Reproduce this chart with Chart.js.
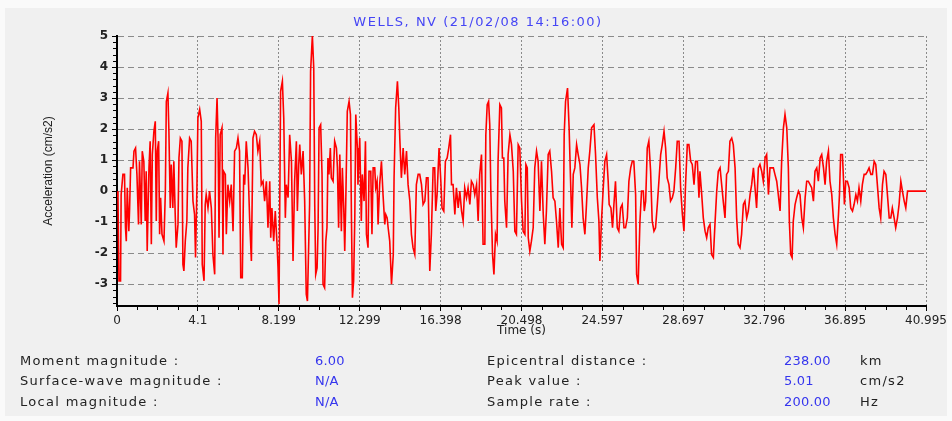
<!DOCTYPE html>
<html>
<head>
<meta charset="utf-8">
<script src="https://cdn.jsdelivr.net/npm/chart.js@4.4.1/dist/chart.umd.min.js"></script>
<style>
  html, body { margin: 0; padding: 0; background: #fafafa; }
  .panel { position: absolute; left: 5px; top: 8px; width: 942px; height: 408px; background: #f0f0f0; }
  #wrap { position: absolute; left: 0; top: 0; width: 952px; height: 421px; }
  .title { position: absolute; left: 0; top: 14px; width: 956px; text-align: center; font: 13px 'DejaVu Sans', sans-serif; letter-spacing: 1.5px; color: #4545f5; line-height: 16px; }
  .info { position: absolute; font: 13px 'DejaVu Sans', sans-serif; color: #222; white-space: nowrap; line-height: 16px; letter-spacing: 1.3px; }
  .val { color: #3535ee; letter-spacing: 0.2px; }
</style>
</head>
<body>
<div class="panel"></div>
<div id="wrap"><canvas id="myChart" width="952" height="421"></canvas></div>
<div class="title">WELLS, NV (21/02/08 14:16:00)</div>

<div class="info" style="left:20px; top:353px">Moment magnitude :</div>
<div class="info" style="left:20px; top:373px">Surface-wave magnitude :</div>
<div class="info" style="left:20px; top:394px">Local magnitude :</div>
<div class="info val" style="left:315px; top:353px">6.00</div>
<div class="info val" style="left:315px; top:373px">N/A</div>
<div class="info val" style="left:315px; top:394px">N/A</div>
<div class="info" style="left:487px; top:353px">Epicentral distance :</div>
<div class="info" style="left:487px; top:373px">Peak value :</div>
<div class="info" style="left:487px; top:394px">Sample rate :</div>
<div class="info val" style="left:784px; top:353px">238.00</div>
<div class="info val" style="left:784px; top:373px">5.01</div>
<div class="info val" style="left:784px; top:394px">200.00</div>
<div class="info" style="left:860px; top:353px">km</div>
<div class="info" style="left:860px; top:373px">cm/s2</div>
<div class="info" style="left:860px; top:394px">Hz</div>

<script>
const timeTicks = ['0', '4.1', '8.199', '12.299', '16.398', '20.498', '24.597', '28.697', '32.796', '36.895', '40.995']
const accelTicks = [-3, -2, -1, 0, 1, 2, 3, 4, 5]

// [time (s), acceleration (cm/s2)]
const accel = [
  [0, 0], [0.05, -0.21], [0.1, -2.89], [0.18, -2.89], [0.21, -0.11], [0.3, 0.54], [0.38, 0.54], [0.43, -1.18],
  [0.47, -1.61], [0.52, 0.11], [0.6, -1.29], [0.64, -0.54], [0.69, 0.75], [0.81, 0.75], [0.86, 1.29], [0.94, 1.39],
  [1.01, 0.54], [1.09, -1.07], [1.14, 0.96], [1.23, -1.07], [1.28, 1.29], [1.36, 0.96], [1.43, -0.96], [1.48, 0.64],
  [1.53, -1.93], [1.62, 0.75], [1.68, 1.61], [1.74, -1.71], [1.79, 1.18], [1.87, 1.93], [1.94, 2.25], [1.99, -0.96],
  [2.04, 1.29], [2.11, 1.61], [2.16, -1.39], [2.21, -0.21], [2.28, -1.39], [2.38, -1.61], [2.45, 0], [2.5, 2.89],
  [2.58, 3.16], [2.63, 1.93], [2.7, -0.54], [2.75, 0.86], [2.83, -0.54], [2.88, 0.96], [2.95, -0.75], [3, -1.82],
  [3.09, -1.07], [3.14, 1.07], [3.21, 1.71], [3.29, 1.61], [3.34, -2.36], [3.39, -2.57], [3.46, -1.61], [3.54, -0.96],
  [3.59, 0.75], [3.68, 1.71], [3.76, 1.61], [3.85, -0.32], [3.93, -0.75], [3.98, -2.14], [4.05, 0.11], [4.1, 2.36],
  [4.19, 2.63], [4.27, 2.25], [4.32, -2.36], [4.41, -2.89], [4.47, -0.43], [4.52, -0.11], [4.61, -0.54], [4.69, 0],
  [4.78, -0.54], [4.86, -2.04], [4.95, -2.68], [5, 1.71], [5.07, 3], [5.12, 1.71], [5.17, -1.5], [5.23, 1.82],
  [5.32, 2.04], [5.37, -2.04], [5.4, 0.64], [5.49, 0.54], [5.54, -1.39], [5.62, 0.21], [5.71, -0.32], [5.79, 0.21],
  [5.88, -1.29], [5.96, 1.29], [6.05, 1.39], [6.13, 1.71], [6.21, 1.29], [6.27, -2.79], [6.35, -2.79], [6.42, 0.54],
  [6.47, 0.21], [6.55, 1.61], [6.64, 0.75], [6.72, -0.86], [6.81, -2.25], [6.89, 1.71], [6.97, 1.93], [7.06, 1.82],
  [7.14, 1.29], [7.23, 1.61], [7.31, 0.21], [7.4, 0.32], [7.48, -0.32], [7.57, 0.32], [7.65, -1.18], [7.74, 0.32],
  [7.79, -1.5], [7.85, -0.54], [7.94, -1.61], [8.02, -0.64], [8.11, -1.71], [8.16, -2.47], [8.21, -3.64], [8.29, 3.22],
  [8.38, 3.54], [8.45, 2.36], [8.53, -0.86], [8.58, 0.21], [8.67, -0.21], [8.75, 1.82], [8.84, 0.96], [8.92, -2.25],
  [9, 0.32], [9.09, 1.61], [9.14, -0.64], [9.21, 0.86], [9.26, 1.5], [9.34, 0.54], [9.43, 1.29], [9.51, -0.32],
  [9.59, -3.32], [9.65, -3.54], [9.76, -0.43], [9.81, 3.86], [9.9, 5.01], [9.97, 3.97], [10.02, -0.43], [10.07, -2.68],
  [10.14, -2.47], [10.19, -1.18], [10.24, 2.04], [10.32, 2.14], [10.39, 0.54], [10.44, -3], [10.52, -3.11], [10.58, -1.61],
  [10.64, -1.18], [10.69, 1.07], [10.74, 0.54], [10.81, 1.39], [10.86, 0.43], [10.95, 0.32], [11.03, 1.61], [11.12, 1.39],
  [11.17, 0.75], [11.23, -1.18], [11.29, 1.18], [11.37, -1.29], [11.42, 0.75], [11.49, -0.54], [11.54, -1.93], [11.59, -0.43],
  [11.67, 2.57], [11.76, 2.89], [11.83, 2.47], [11.88, -0.86], [11.93, -3.43], [11.99, -2.89], [12.05, -0.86], [12.1, 2.47],
  [12.18, 1.39], [12.21, 0.21], [12.3, 1.71], [12.38, -0.96], [12.43, 0.54], [12.52, -0.32], [12.59, 1.61], [12.64, -1.39],
  [12.72, -1.82], [12.77, 0.64], [12.86, 0.64], [12.92, -1.39], [12.98, 0.75], [13.06, 0.75], [13.11, 0.11], [13.18, 0.32],
  [13.23, -1.07], [13.31, 0.21], [13.4, 0.96], [13.48, -0.11], [13.57, -1.07], [13.62, -0.75], [13.69, -0.86], [13.74, -1.18],
  [13.82, -1.61], [13.91, -3], [14, -2.04], [14.04, 0.43], [14.12, 2.68], [14.21, 3.54], [14.28, 2.68], [14.33, 1.71],
  [14.41, 0.43], [14.5, 1.39], [14.58, 0.54], [14.67, 1.29], [14.75, 0.21], [14.84, -0.32], [14.92, -1.39], [15, -1.82],
  [15.09, -2.04], [15.17, 0.21], [15.26, 0.54], [15.34, 0.54], [15.43, 0.21], [15.51, -0.43], [15.6, -0.32], [15.68, 0.43],
  [15.76, 0.43], [15.85, -2.57], [15.93, -1.39], [16.02, 0.75], [16.1, 0.75], [16.15, -0.64], [16.22, -0.11], [16.32, 1.39],
  [16.41, 0.32], [16.47, -0.54], [16.56, -0.64], [16.64, 0.96], [16.73, 1.07], [16.81, 1.39], [16.9, 1.82], [16.95, 0.21],
  [17.03, 0.21], [17.12, -0.75], [17.2, 0.11], [17.29, -0.54], [17.37, 0], [17.46, -0.64], [17.54, -0.96], [17.62, 0.11],
  [17.71, -0.21], [17.79, 0.11], [17.88, -0.43], [17.96, 0.32], [18.05, 0.21], [18.13, -0.11], [18.22, 0.21], [18.3, -0.96],
  [18.38, 0.54], [18.47, 1.18], [18.55, -1.71], [18.64, -1.71], [18.69, 1.82], [18.76, 2.79], [18.83, 2.89], [18.89, 2.14],
  [18.94, 0.11], [19.03, -2.04], [19.1, -2.68], [19.18, -1.39], [19.26, -1.61], [19.31, 0.96], [19.4, 2.79], [19.48, 2.68],
  [19.53, 1.07], [19.6, 1.07], [19.65, -0.32], [19.74, -1.18], [19.82, 1.18], [19.91, 1.82], [19.99, 1.5], [20.08, 0.64],
  [20.16, -1.29], [20.24, -1.39], [20.33, 1.5], [20.41, 1.39], [20.5, -0.32], [20.58, -1.29], [20.67, -1.39], [20.72, 0.86],
  [20.79, 0.75], [20.84, -1.5], [20.92, -1.93], [21, -1.61], [21.09, -1.18], [21.17, 0.75], [21.26, 1.29], [21.34, 0.96],
  [21.43, -0.64], [21.51, 0.96], [21.6, -0.75], [21.68, -1.71], [21.76, -0.64], [21.85, 1.18], [21.93, 1.29], [22.02, 0.64],
  [22.1, -0.21], [22.19, -0.32], [22.27, -0.96], [22.36, -1.82], [22.44, -0.54], [22.53, -1.71], [22.61, -1.82], [22.66, 1.82],
  [22.73, 2.89], [22.83, 3.32], [22.91, 2.04], [22.98, 0.43], [23.05, -1.18], [23.12, 0.54], [23.2, 0.75], [23.29, 1.5],
  [23.37, 1.18], [23.46, 0.86], [23.54, 0.11], [23.62, -0.86], [23.71, -1.39], [23.79, -0.43], [23.88, 0.75], [23.96, 1.29],
  [24.05, 2.04], [24.17, 2.14], [24.25, 1.18], [24.34, -0.21], [24.42, -0.96], [24.47, -2.25], [24.55, -0.96], [24.64, 0.11],
  [24.72, 0.96], [24.81, 1.18], [24.89, 0.32], [24.94, -0.43], [25.03, -0.54], [25.11, -1.18], [25.18, -0.43], [25.26, 0.32],
  [25.35, -1.18], [25.43, -1.29], [25.52, -0.54], [25.6, -0.43], [25.69, -1.18], [25.77, -1.18], [25.86, -0.86], [25.94, 0.32],
  [26.03, 0.75], [26.11, 0.96], [26.19, 0.96], [26.28, -0.11], [26.33, -2.68], [26.41, -3], [26.5, -0.96], [26.58, 0],
  [26.67, 0], [26.72, -0.64], [26.79, -0.32], [26.87, 1.39], [26.95, 1.61], [27.04, 0.64], [27.12, -0.96], [27.21, -1.29],
  [27.29, -1.18], [27.38, -0.43], [27.46, 0.32], [27.55, 1.18], [27.63, 1.5], [27.72, 1.93], [27.8, 1.39], [27.88, 0.43],
  [27.97, 0.21], [28.05, -0.32], [28.14, -0.21], [28.22, 0], [28.31, 0.75], [28.39, 1.61], [28.48, 1.61], [28.56, 0.11],
  [28.65, -0.75], [28.73, -1.29], [28.81, 0.21], [28.9, 1.5], [28.98, 1.5], [29.07, 0.96], [29.15, 0.86], [29.24, 0.21],
  [29.32, 0.96], [29.41, 0.96], [29.49, -0.21], [29.54, 0.64], [29.63, -0.11], [29.71, -0.86], [29.8, -1.29], [29.88, -1.5],
  [29.96, -1.18], [30.05, -1.07], [30.13, -2.04], [30.22, -2.14], [30.3, -1.07], [30.39, 0], [30.47, 0.64], [30.56, 0.75],
  [30.64, 0.21], [30.72, -0.32], [30.81, -0.86], [30.89, 0.54], [30.98, 0.64], [31.06, 1.61], [31.15, 1.71], [31.23, 1.5],
  [31.32, 0.75], [31.4, -0.86], [31.48, -1.71], [31.57, -1.82], [31.65, -1.39], [31.74, -0.43], [31.82, -0.32], [31.91, -0.86],
  [31.99, -0.64], [32.08, -0.11], [32.16, 0.21], [32.25, 0.75], [32.33, 0.11], [32.41, -0.54], [32.5, 0.75], [32.58, 0.86],
  [32.67, 0.64], [32.75, 0.32], [32.84, 1.07], [32.92, 1.18], [33.01, -0.11], [33.09, 0.75], [33.17, 0.75], [33.26, 0.75],
  [33.34, 0.54], [33.43, 0.32], [33.51, -0.11], [33.6, -0.64], [33.68, 0.96], [33.77, 2.04], [33.85, 2.47], [33.94, 2.04],
  [34.02, 0.75], [34.07, -0.96], [34.14, -2.04], [34.21, -2.14], [34.27, -0.96], [34.36, -0.43], [34.44, -0.21], [34.53, 0],
  [34.61, -0.11], [34.7, -0.86], [34.78, -1.18], [34.87, -0.21], [34.95, 0.32], [35.03, 0.32], [35.12, 0.21], [35.2, 0.11],
  [35.29, -0.32], [35.37, 0.64], [35.46, 0.75], [35.54, 0.32], [35.63, 1.07], [35.71, 1.18], [35.8, 0.75], [35.88, 0.21],
  [35.96, 0.96], [36.05, 1.29], [36.13, 0.32], [36.22, -0.11], [36.3, -0.86], [36.39, -1.39], [36.47, -1.71], [36.56, -0.75],
  [36.61, -0.11], [36.67, 1.18], [36.76, 1.18], [36.81, 0.43], [36.86, -0.43], [36.93, 0.32], [37.01, 0.32], [37.1, 0.11],
  [37.18, -0.54], [37.27, -0.64], [37.35, -0.43], [37.44, -0.11], [37.52, -0.32], [37.6, 0.11], [37.69, -0.32], [37.77, 0.21],
  [37.86, 0.54], [37.94, 0.54], [38.03, 0.64], [38.11, 0.75], [38.2, 0.54], [38.28, 0.54], [38.37, 0.96], [38.45, 0.86],
  [38.53, 0.21], [38.62, -0.54], [38.7, -0.86], [38.79, 0.21], [38.87, 0.64], [38.96, 0.54], [39.04, -0.11], [39.13, -0.86],
  [39.21, -0.86], [39.29, -0.54], [39.38, -0.86], [39.46, -1.18], [39.55, -0.86], [39.63, -0.43], [39.72, 0.32], [39.8, 0],
  [39.89, -0.32], [39.97, -0.54], [40.06, 0], [40.14, 0], [40.995, 0],
]

const canvas = document.getElementById('myChart')

// small ticks between the labelled ones on both axes
const minorTicks = {
  id: 'minorTicks',
  afterDraw(chart) {
    const { ctx, chartArea, scales: { x, y } } = chart
    ctx.save()
    ctx.strokeStyle = '#000'
    ctx.lineWidth = 1
    ctx.beginPath()
    for (let a = accelTicks[0] - 1; a < accelTicks[accelTicks.length - 1]; a++) {
      for (let k = 1; k < 5; k++) {
        const v = a + k * 0.2
        if (v < y.min) continue
        const py = Math.round(y.getPixelForValue(v)) + 0.5
        ctx.moveTo(chartArea.left - 4, py)
        ctx.lineTo(chartArea.left, py)
      }
    }
    for (let i = 0; i < timeTicks.length - 1; i++) {
      const lo = parseFloat(timeTicks[i])
      const hi = parseFloat(timeTicks[i + 1])
      for (let k = 1; k < 4; k++) {
        const px = Math.round(x.getPixelForValue(lo + ((hi - lo) * k) / 4)) + 0.5
        ctx.moveTo(px, chartArea.bottom)
        ctx.lineTo(px, chartArea.bottom + 4)
      }
    }
    ctx.stroke()
    ctx.restore()
  },
}

const config = {
  type: 'line',
  data: {
    datasets: [
      {
        data: accel,
        borderColor: '#ff0000',
        borderWidth: 1.6,
        pointRadius: 0,
        tension: 0,
      },
    ],
  },
  options: {
    responsive: false,
    animation: false,
    layout: { padding: { left: 30, right: 26, top: 36, bottom: 81 } },
    plugins: {
      legend: { display: false },
      tooltip: { enabled: false },
    },
    scales: {
      x: {
        type: 'linear',
        min: 0,
        max: 40.995,
        afterBuildTicks: (scale) => {
          scale.ticks = timeTicks.map((t) => ({ value: parseFloat(t) }))
        },
        afterFit: (scale) => {
          scale.height = 34
        },
        ticks: {
          autoSkip: false,
          maxRotation: 0,
          padding: 3,
          color: '#222',
          font: { family: 'DejaVu Sans', size: 12 },
          callback: (value, index) => timeTicks[index],
        },
        grid: {
          color: '#8a8a8a',
          lineWidth: 1,
          tickLength: 5,
          tickColor: '#000',
          tickBorderDash: [],
        },
        border: { color: '#000', width: 2, dash: [2, 2] },
        title: {
          display: true,
          text: 'Time (s)',
          color: '#222',
          font: { family: 'DejaVu Sans', size: 12 },
          padding: { top: 0, bottom: 2 },
        },
      },
      y: {
        min: -3.7,
        max: 5,
        afterBuildTicks: (scale) => {
          scale.ticks = accelTicks.map((v) => ({ value: v }))
        },
        afterFit: (scale) => {
          scale.width = 87
        },
        ticks: {
          padding: 4,
          color: '#222',
          font: { family: 'DejaVu Sans', size: 12, weight: 'bold' },
        },
        grid: {
          color: '#8a8a8a',
          lineWidth: 1,
          tickLength: 5,
          tickColor: '#000',
          tickBorderDash: [],
        },
        border: { color: '#000', width: 2, dash: [6, 4] },
        title: {
          display: true,
          text: 'Acceleration (cm/s2)',
          color: '#222',
          font: { family: "'Liberation Sans Narrow', 'Liberation Sans'", size: 12 },
          padding: { top: 11, bottom: 0 },
        },
      },
    },
  },
  plugins: [minorTicks],
}

const myChart = new Chart(canvas, config)
</script>
</body>
</html>
